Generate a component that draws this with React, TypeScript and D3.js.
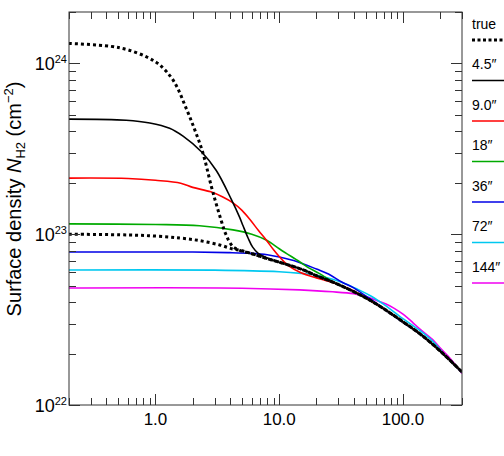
import React, { useEffect, useRef } from 'react';
import * as d3 from 'd3';

const W = 504;
const H = 456;
const margin = { top: 12, right: 42, bottom: 51, left: 69 };

const xDomain = [0.2, 300];
const yDomain = [1e22, 2e24];
const xLabelTicks = [1, 10, 100];
const yLabelExponents = [22, 23, 24];

// radius, column density (cm^-2)
const trueInner = [
  [0.2, 1.31e24], [0.43, 1.26e24], [0.6, 1.2e24], [0.85, 1.09e24], [1.08, 9.8e23],
  [1.4, 7.9e23], [1.8, 5.3e23], [2.1, 4.0e23], [2.42, 2.98e23], [2.83, 1.9e23],
  [3.1, 1.5e23], [3.4, 1.2e23], [3.7, 1.0e23], [4.2, 8.5e22], [4.8, 8.05e22],
  [6, 7.69e22], [8, 7.2e22], [10, 6.86e22], [15, 6.25e22], [20, 5.72e22], [30, 5.08e22],
  [50, 4.24e22], [70, 3.66e22], [100, 3.07e22], [140, 2.58e22], [200, 2.07e22], [300, 1.56e22],
];
const trueOuter = [
  [0.2, 1.0e23], [0.6, 9.9e22], [1.0, 9.75e22], [1.57, 9.5e22], [2.27, 9.17e22],
  [3.3, 8.65e22], [4.2, 8.2e22], [5, 8.0e22], [6, 7.69e22], [8, 7.2e22], [10, 6.86e22],
  [15, 6.25e22], [20, 5.72e22], [30, 5.08e22], [50, 4.24e22], [70, 3.66e22],
  [100, 3.07e22], [140, 2.58e22], [200, 2.07e22], [300, 1.56e22],
];
const beam45 = [
  [0.2, 4.72e23], [0.58, 4.65e23], [0.9, 4.48e23], [1.3, 4.17e23], [1.67, 3.75e23],
  [2.35, 3.04e23], [3.1, 2.36e23], [4.1, 1.6e23], [4.78, 1.26e23], [5.1, 1.12e23],
  [5.6, 9.5e22], [6.1, 8.4e22], [6.8, 7.7e22], [8, 7.25e22], [10, 6.86e22], [15, 6.25e22],
  [20, 5.72e22], [30, 5.08e22], [50, 4.24e22], [70, 3.66e22], [100, 3.07e22],
  [140, 2.58e22], [200, 2.07e22], [300, 1.56e22],
];
const beam9 = [
  [0.2, 2.13e23], [0.6, 2.12e23], [1.0, 2.07e23], [1.6, 1.99e23], [2.0, 1.88e23],
  [2.8, 1.77e23], [3.5, 1.65e23], [4.2, 1.53e23], [5, 1.38e23], [5.8, 1.22e23],
  [6.8, 1.05e23], [7.85, 9.25e22], [9, 8.1e22], [10, 7.4e22], [12, 6.5e22], [15, 5.95e22],
  [20, 5.55e22], [25, 5.3e22], [30, 5.08e22], [40, 4.66e22], [50, 4.24e22], [70, 3.66e22],
  [100, 3.07e22], [140, 2.58e22], [200, 2.07e22], [300, 1.56e22],
];
const beam18 = [
  [0.2, 1.15e23], [1, 1.14e23], [2.27, 1.12e23], [4.23, 1.06e23], [6, 1.0e23],
  [7.85, 9.25e22], [10, 8.22e22], [11.4, 7.73e22], [14.6, 6.9e22], [17, 6.4e22],
  [21, 5.9e22], [25, 5.45e22], [30, 5.05e22], [40, 4.64e22], [50, 4.24e22], [70, 3.66e22],
  [100, 3.07e22], [140, 2.58e22], [200, 2.07e22], [300, 1.56e22],
];
const beam36 = [
  [0.2, 7.87e22], [2, 7.86e22], [4, 7.8e22], [6, 7.72e22], [8, 7.58e22], [10, 7.35e22],
  [14, 6.9e22], [20, 6.25e22], [25, 5.85e22], [32, 5.25e22], [40, 4.85e22], [50, 4.35e22],
  [60, 3.98e22], [70, 3.66e22], [100, 3.05e22], [140, 2.58e22], [200, 2.07e22], [300, 1.56e22],
];
const beam72 = [
  [0.2, 6.17e22], [3, 6.16e22], [10, 6.03e22], [15, 5.9e22], [20, 5.75e22], [27, 5.45e22],
  [35, 5.1e22], [44, 4.72e22], [55, 4.35e22], [70, 3.88e22], [100, 3.2e22], [135, 2.75e22],
  [175, 2.35e22], [220, 1.95e22], [300, 1.55e22],
];
const beam144 = [
  [0.2, 4.84e22], [5, 4.83e22], [14.6, 4.72e22], [27, 4.6e22], [40, 4.48e22], [50, 4.32e22],
  [60, 4.12e22], [73, 3.9e22], [85, 3.68e22], [100, 3.4e22], [120, 3.04e22], [135, 2.81e22],
  [173, 2.42e22], [196, 2.19e22], [240, 1.88e22], [300, 1.53e22],
];

const series = [
  { label: 'true', color: '#000000', dotted: true, data: trueInner },
  { label: null, color: '#000000', dotted: true, data: trueOuter },
  { label: '4.5\u2033', color: '#000000', dotted: false, data: beam45 },
  { label: '9.0\u2033', color: '#ff0000', dotted: false, data: beam9 },
  { label: '18\u2033', color: '#00aa00', dotted: false, data: beam18 },
  { label: '36\u2033', color: '#0000e6', dotted: false, data: beam36 },
  { label: '72\u2033', color: '#00c8f0', dotted: false, data: beam72 },
  { label: '144\u2033', color: '#f000f0', dotted: false, data: beam144 },
];

const FONT = '"Liberation Sans", Arial, Helvetica, sans-serif';
const AXIS = '#333';

const App = () => {
  const svgRef = useRef(null);

  useEffect(() => {
    const svg = d3.select(svgRef.current);
    svg.selectAll('*').remove();

    const x0 = margin.left;
    const x1 = W - margin.right;
    const y0 = margin.top;
    const y1 = H - margin.bottom;

    const x = d3.scaleLog().domain(xDomain).range([x0, x1]);
    const y = d3.scaleLog().domain(yDomain).range([y1, y0]);

    svg.append('defs').append('clipPath').attr('id', 'plot-clip')
      .append('rect')
      .attr('x', x0).attr('y', y0)
      .attr('width', x1 - x0).attr('height', y1 - y0);

    // Curves
    const line = d3.line()
      .x(d => x(d[0]))
      .y(d => y(d[1]))
      .curve(d3.curveCatmullRom.alpha(0.5));

    const g = svg.append('g').attr('clip-path', 'url(#plot-clip)');
    // big beams underneath, true profile on top
    const order = [7, 6, 5, 4, 3, 2, 1, 0];
    order.forEach(i => {
      const s = series[i];
      g.append('path')
        .attr('d', line(s.data))
        .attr('fill', 'none')
        .attr('stroke', s.color)
        .attr('stroke-width', s.dotted ? 3 : 1.6)
        .attr('stroke-dasharray', s.dotted ? '3,3' : null);
    });

    // Frame
    svg.append('rect')
      .attr('x', x0).attr('y', y0)
      .attr('width', x1 - x0).attr('height', y1 - y0)
      .attr('fill', 'none')
      .attr('stroke', AXIS)
      .attr('stroke-width', 1);

    const isMajor = v => Math.abs(Math.log10(v) - Math.round(Math.log10(v))) < 1e-6;

    // X ticks, bottom and top
    x.ticks().forEach(v => {
      const len = isMajor(v) ? 11 : 7;
      const px = Math.round(x(v)) + 0.5;
      svg.append('line').attr('x1', px).attr('x2', px)
        .attr('y1', y1).attr('y2', y1 - len).attr('stroke', AXIS);
      svg.append('line').attr('x1', px).attr('x2', px)
        .attr('y1', y0).attr('y2', y0 + len).attr('stroke', AXIS);
    });

    // Y ticks, left and right
    y.ticks().forEach(v => {
      const len = isMajor(v) ? 11 : 7;
      const py = Math.round(y(v)) + 0.5;
      svg.append('line').attr('x1', x0).attr('x2', x0 + len)
        .attr('y1', py).attr('y2', py).attr('stroke', AXIS);
      svg.append('line').attr('x1', x1).attr('x2', x1 - len)
        .attr('y1', py).attr('y2', py).attr('stroke', AXIS);
    });

    // X tick labels
    svg.selectAll('.xlab')
      .data(xLabelTicks)
      .enter()
      .append('text')
      .attr('x', d => x(d))
      .attr('y', y1 + 20)
      .attr('text-anchor', 'middle')
      .attr('font-family', FONT)
      .attr('font-size', 17)
      .attr('fill', '#000')
      .text(d => d3.format('.1f')(d));

    // Y tick labels
    yLabelExponents.forEach(e => {
      const t = svg.append('text')
        .attr('x', x0 - 2)
        .attr('y', y(Math.pow(10, e)) + 6.5)
        .attr('text-anchor', 'end')
        .attr('font-family', FONT)
        .attr('fill', '#000');
      t.append('tspan').attr('font-size', 18).text('10');
      t.append('tspan').attr('font-size', 11).attr('dy', -7).text(String(e));
    });

    // Y axis title
    const title = svg.append('text')
      .attr('transform', `translate(21,199) rotate(-90)`)
      .attr('text-anchor', 'middle')
      .attr('font-family', FONT)
      .attr('font-size', 20)
      .attr('fill', '#000');
    title.append('tspan').text('Surface density ');
    title.append('tspan').attr('font-style', 'italic').text('N');
    title.append('tspan').attr('font-size', 13).attr('dy', 4).text('H2');
    title.append('tspan').attr('dy', -4).text(' (cm');
    title.append('tspan').attr('font-size', 13).attr('dy', -8).text('\u22122');
    title.append('tspan').attr('dy', 8).text(')');

    // Legend
    const legendItems = series.filter(s => s.label);
    const lg = svg.append('g');
    legendItems.forEach((s, i) => {
      const ly = 40 + i * 40.5;
      lg.append('text')
        .attr('x', 472)
        .attr('y', ly - 11.5)
        .attr('font-family', FONT)
        .attr('font-size', 14)
        .attr('fill', '#000')
        .text(s.label);
      lg.append('line')
        .attr('x1', 472).attr('x2', 506)
        .attr('y1', ly).attr('y2', ly)
        .attr('stroke', s.color)
        .attr('stroke-width', s.dotted ? 3 : 1.6)
        .attr('stroke-dasharray', s.dotted ? '3,2.5' : null);
    });
  }, []);

  return (
    <div style={{ position: 'absolute', left: 0, top: 0, width: W, height: H, background: '#fff' }}>
      <svg ref={svgRef} width={W} height={H} style={{ display: 'block' }}></svg>
    </div>
  );
};

export default App;
